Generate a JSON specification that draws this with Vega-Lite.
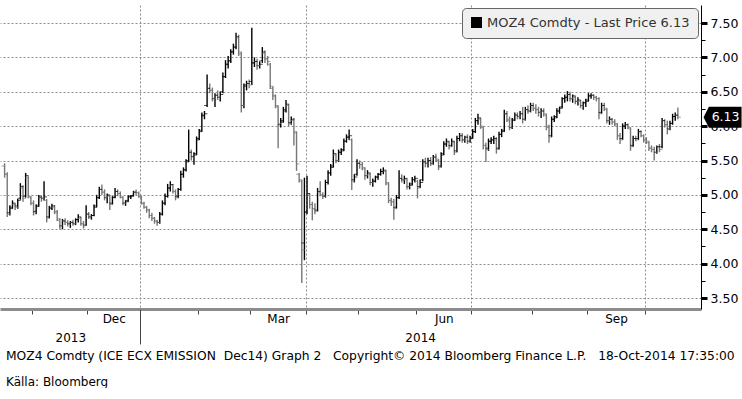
{
"$schema": "https://vega.github.io/schema/vega-lite/v6.json",
"width": 701, "height": 304,
"padding": {"left": 0, "top": 5, "right": 0, "bottom": 0},
"autosize": {"type": "pad"},
"background": "white",
"config": {"view": {"stroke": null}, "font": "DejaVu Sans",
  "legend": {"orient": "top-right", "offset": 3, "fillColor": "#f0f0f0", "strokeColor": "#666666", "cornerRadius": 4, "padding": 8, "labelFontSize": 13, "labelColor": "#333333", "symbolType": "square", "symbolSize": 121, "symbolOpacity": 1, "symbolStrokeWidth": 0, "labelLimit": 400}},
"title": {"text": "MOZ4 Comdty (ICE ECX EMISSION \u00a0Dec14) Graph 2 \u00a0 Copyright\u00a9 2014 Bloomberg Finance L.P. \u00a0 18-Oct-2014 17:35:00", "subtitle": "Källa: Bloomberg", "orient": "bottom", "anchor": "start", "frame": "bounds", "offset": 5, "dx": 6, "font": "DejaVu Sans", "fontSize": 12.3, "fontWeight": "normal", "color": "#000000", "subtitleFont": "DejaVu Sans", "subtitleFontSize": 12, "subtitleColor": "#000000", "subtitlePadding": 15},
"data": {"values": [
{"date":"2013-10-17","open":5.42,"high":5.46,"low":5.25,"close":5.30},
{"date":"2013-10-18","open":5.30,"high":5.33,"low":4.68,"close":4.72},
{"date":"2013-10-21","open":4.74,"high":4.85,"low":4.70,"close":4.80},
{"date":"2013-10-22","open":4.82,"high":4.92,"low":4.80,"close":4.88},
{"date":"2013-10-23","open":4.86,"high":4.88,"low":4.78,"close":4.82},
{"date":"2013-10-24","open":4.84,"high":4.94,"low":4.80,"close":4.92},
{"date":"2013-10-25","open":4.95,"high":5.17,"low":4.93,"close":5.12},
{"date":"2013-10-28","open":5.10,"high":5.14,"low":4.90,"close":4.95},
{"date":"2013-10-29","open":4.98,"high":5.32,"low":4.96,"close":5.28},
{"date":"2013-10-30","open":5.25,"high":5.27,"low":4.95,"close":4.98},
{"date":"2013-10-31","open":4.96,"high":4.98,"low":4.85,"close":4.88},
{"date":"2013-11-01","open":4.88,"high":4.92,"low":4.70,"close":4.74},
{"date":"2013-11-04","open":4.76,"high":4.86,"low":4.72,"close":4.83},
{"date":"2013-11-05","open":4.85,"high":5.00,"low":4.83,"close":4.97},
{"date":"2013-11-06","open":4.96,"high":4.99,"low":4.90,"close":4.95},
{"date":"2013-11-07","open":4.95,"high":5.20,"low":4.92,"close":4.97},
{"date":"2013-11-08","open":4.92,"high":4.94,"low":4.60,"close":4.66},
{"date":"2013-11-11","open":4.68,"high":4.84,"low":4.66,"close":4.80},
{"date":"2013-11-12","open":4.82,"high":4.87,"low":4.78,"close":4.84},
{"date":"2013-11-13","open":4.82,"high":4.85,"low":4.72,"close":4.76},
{"date":"2013-11-14","open":4.74,"high":4.78,"low":4.62,"close":4.65},
{"date":"2013-11-15","open":4.63,"high":4.66,"low":4.50,"close":4.55},
{"date":"2013-11-18","open":4.55,"high":4.65,"low":4.50,"close":4.62},
{"date":"2013-11-19","open":4.62,"high":4.66,"low":4.56,"close":4.60},
{"date":"2013-11-20","open":4.60,"high":4.63,"low":4.54,"close":4.57},
{"date":"2013-11-21","open":4.58,"high":4.62,"low":4.52,"close":4.60},
{"date":"2013-11-22","open":4.60,"high":4.64,"low":4.55,"close":4.58},
{"date":"2013-11-25","open":4.58,"high":4.66,"low":4.56,"close":4.64},
{"date":"2013-11-26","open":4.64,"high":4.72,"low":4.60,"close":4.68},
{"date":"2013-11-27","open":4.66,"high":4.68,"low":4.55,"close":4.58},
{"date":"2013-11-28","open":4.58,"high":4.62,"low":4.51,"close":4.55},
{"date":"2013-11-29","open":4.56,"high":4.85,"low":4.55,"close":4.72},
{"date":"2013-12-02","open":4.72,"high":4.75,"low":4.65,"close":4.68},
{"date":"2013-12-03","open":4.68,"high":4.72,"low":4.64,"close":4.70},
{"date":"2013-12-04","open":4.70,"high":4.86,"low":4.69,"close":4.82},
{"date":"2013-12-05","open":4.84,"high":5.00,"low":4.82,"close":4.96},
{"date":"2013-12-06","open":4.96,"high":5.12,"low":4.94,"close":5.08},
{"date":"2013-12-09","open":5.08,"high":5.15,"low":5.00,"close":5.04},
{"date":"2013-12-10","open":5.04,"high":5.08,"low":4.92,"close":4.96},
{"date":"2013-12-11","open":4.96,"high":5.02,"low":4.88,"close":5.00},
{"date":"2013-12-12","open":4.98,"high":5.00,"low":4.78,"close":4.86},
{"date":"2013-12-13","open":4.88,"high":4.98,"low":4.86,"close":4.96},
{"date":"2013-12-16","open":4.97,"high":5.10,"low":4.95,"close":5.05},
{"date":"2013-12-17","open":5.05,"high":5.08,"low":4.98,"close":5.02},
{"date":"2013-12-18","open":5.02,"high":5.05,"low":4.95,"close":4.97},
{"date":"2013-12-19","open":4.96,"high":4.98,"low":4.85,"close":4.88},
{"date":"2013-12-20","open":4.88,"high":4.92,"low":4.84,"close":4.90},
{"date":"2013-12-23","open":4.92,"high":4.99,"low":4.90,"close":4.97},
{"date":"2013-12-24","open":4.98,"high":5.00,"low":4.94,"close":4.98},
{"date":"2013-12-27","open":4.99,"high":5.06,"low":4.98,"close":5.04},
{"date":"2013-12-30","open":5.04,"high":5.08,"low":5.00,"close":5.03},
{"date":"2013-12-31","open":5.03,"high":5.05,"low":4.96,"close":4.98},
{"date":"2014-01-02","open":4.97,"high":4.99,"low":4.86,"close":4.88},
{"date":"2014-01-03","open":4.87,"high":4.90,"low":4.80,"close":4.82},
{"date":"2014-01-06","open":4.82,"high":4.84,"low":4.74,"close":4.78},
{"date":"2014-01-07","open":4.78,"high":4.80,"low":4.66,"close":4.70},
{"date":"2014-01-08","open":4.70,"high":4.74,"low":4.62,"close":4.66},
{"date":"2014-01-09","open":4.66,"high":4.68,"low":4.58,"close":4.62},
{"date":"2014-01-10","open":4.62,"high":4.64,"low":4.55,"close":4.60},
{"date":"2014-01-13","open":4.60,"high":4.75,"low":4.58,"close":4.72},
{"date":"2014-01-14","open":4.72,"high":4.92,"low":4.70,"close":4.88},
{"date":"2014-01-15","open":4.88,"high":5.02,"low":4.85,"close":4.98},
{"date":"2014-01-16","open":4.98,"high":5.16,"low":4.96,"close":5.10},
{"date":"2014-01-17","open":5.10,"high":5.20,"low":5.05,"close":5.15},
{"date":"2014-01-20","open":5.14,"high":5.16,"low":5.02,"close":5.05},
{"date":"2014-01-21","open":5.05,"high":5.08,"low":4.92,"close":4.96},
{"date":"2014-01-22","open":4.98,"high":5.10,"low":4.95,"close":5.08},
{"date":"2014-01-23","open":5.08,"high":5.35,"low":5.06,"close":5.30},
{"date":"2014-01-24","open":5.30,"high":5.40,"low":5.25,"close":5.36},
{"date":"2014-01-27","open":5.37,"high":5.52,"low":5.34,"close":5.48},
{"date":"2014-01-28","open":5.50,"high":5.95,"low":5.48,"close":5.62},
{"date":"2014-01-29","open":5.62,"high":5.66,"low":5.50,"close":5.55},
{"date":"2014-01-30","open":5.56,"high":5.62,"low":5.44,"close":5.58},
{"date":"2014-01-31","open":5.60,"high":5.85,"low":5.58,"close":5.80},
{"date":"2014-02-03","open":5.82,"high":5.96,"low":5.80,"close":5.92},
{"date":"2014-02-04","open":5.94,"high":6.20,"low":5.92,"close":6.16},
{"date":"2014-02-05","open":6.15,"high":6.22,"low":6.10,"close":6.18},
{"date":"2014-02-06","open":6.30,"high":6.75,"low":6.28,"close":6.55},
{"date":"2014-02-07","open":6.55,"high":6.62,"low":6.48,"close":6.52},
{"date":"2014-02-10","open":6.52,"high":6.56,"low":6.36,"close":6.40},
{"date":"2014-02-11","open":6.40,"high":6.48,"low":6.28,"close":6.45},
{"date":"2014-02-12","open":6.45,"high":6.52,"low":6.38,"close":6.42},
{"date":"2014-02-13","open":6.42,"high":6.50,"low":6.36,"close":6.46},
{"date":"2014-02-14","open":6.50,"high":6.78,"low":6.48,"close":6.72},
{"date":"2014-02-17","open":6.72,"high":6.96,"low":6.70,"close":6.90},
{"date":"2014-02-18","open":6.90,"high":7.02,"low":6.84,"close":6.95},
{"date":"2014-02-19","open":6.95,"high":7.12,"low":6.92,"close":7.08},
{"date":"2014-02-20","open":7.08,"high":7.20,"low":7.04,"close":7.15},
{"date":"2014-02-21","open":7.15,"high":7.36,"low":7.12,"close":7.30},
{"date":"2014-02-24","open":7.28,"high":7.33,"low":7.02,"close":7.08},
{"date":"2014-02-25","open":7.05,"high":7.08,"low":6.20,"close":6.30},
{"date":"2014-02-26","open":6.30,"high":6.62,"low":6.26,"close":6.58},
{"date":"2014-02-27","open":6.60,"high":6.66,"low":6.52,"close":6.62},
{"date":"2014-02-28","open":6.62,"high":6.68,"low":6.55,"close":6.60},
{"date":"2014-03-03","open":6.65,"high":7.43,"low":6.60,"close":6.92},
{"date":"2014-03-04","open":6.92,"high":7.00,"low":6.86,"close":6.94},
{"date":"2014-03-05","open":6.94,"high":6.98,"low":6.82,"close":6.88},
{"date":"2014-03-06","open":6.88,"high":6.94,"low":6.84,"close":6.90},
{"date":"2014-03-07","open":6.95,"high":7.15,"low":6.92,"close":7.08},
{"date":"2014-03-10","open":7.06,"high":7.10,"low":6.92,"close":6.98},
{"date":"2014-03-11","open":6.98,"high":7.02,"low":6.88,"close":6.94},
{"date":"2014-03-12","open":6.90,"high":6.92,"low":6.54,"close":6.58},
{"date":"2014-03-13","open":6.55,"high":6.58,"low":6.38,"close":6.44},
{"date":"2014-03-14","open":6.44,"high":6.46,"low":6.26,"close":6.30},
{"date":"2014-03-17","open":6.28,"high":6.30,"low":5.68,"close":6.04},
{"date":"2014-03-18","open":6.02,"high":6.12,"low":5.98,"close":6.06},
{"date":"2014-03-19","open":6.08,"high":6.28,"low":6.05,"close":6.22},
{"date":"2014-03-20","open":6.24,"high":6.38,"low":6.20,"close":6.32},
{"date":"2014-03-21","open":6.30,"high":6.32,"low":6.00,"close":6.04},
{"date":"2014-03-24","open":6.05,"high":6.14,"low":6.02,"close":6.10},
{"date":"2014-03-25","open":6.08,"high":6.12,"low":5.72,"close":5.92},
{"date":"2014-03-26","open":5.90,"high":5.92,"low":5.35,"close":5.45},
{"date":"2014-03-27","open":5.30,"high":5.32,"low":5.18,"close":5.22},
{"date":"2014-03-28","open":5.20,"high":5.22,"low":3.72,"close":4.20},
{"date":"2014-03-31","open":4.30,"high":5.25,"low":4.05,"close":4.75},
{"date":"2014-04-01","open":4.75,"high":5.28,"low":4.72,"close":5.02},
{"date":"2014-04-02","open":5.00,"high":5.02,"low":4.80,"close":4.86},
{"date":"2014-04-03","open":4.86,"high":4.90,"low":4.63,"close":4.80},
{"date":"2014-04-04","open":4.80,"high":4.88,"low":4.72,"close":4.76},
{"date":"2014-04-07","open":4.78,"high":5.10,"low":4.76,"close":5.05},
{"date":"2014-04-08","open":5.04,"high":5.20,"low":4.98,"close":5.00},
{"date":"2014-04-09","open":5.00,"high":5.04,"low":4.94,"close":4.98},
{"date":"2014-04-10","open":4.98,"high":5.22,"low":4.96,"close":5.18},
{"date":"2014-04-11","open":5.18,"high":5.36,"low":5.15,"close":5.32},
{"date":"2014-04-14","open":5.32,"high":5.45,"low":5.28,"close":5.40},
{"date":"2014-04-15","open":5.42,"high":5.66,"low":5.40,"close":5.60},
{"date":"2014-04-16","open":5.58,"high":5.60,"low":5.46,"close":5.50},
{"date":"2014-04-17","open":5.50,"high":5.66,"low":5.48,"close":5.62},
{"date":"2014-04-22","open":5.62,"high":5.68,"low":5.58,"close":5.64},
{"date":"2014-04-23","open":5.66,"high":5.82,"low":5.64,"close":5.78},
{"date":"2014-04-24","open":5.78,"high":5.88,"low":5.76,"close":5.84},
{"date":"2014-04-25","open":5.84,"high":5.95,"low":5.80,"close":5.86},
{"date":"2014-04-28","open":5.80,"high":5.82,"low":5.07,"close":5.20},
{"date":"2014-04-29","open":5.22,"high":5.30,"low":5.18,"close":5.26},
{"date":"2014-04-30","open":5.30,"high":5.52,"low":5.28,"close":5.46},
{"date":"2014-05-01","open":5.46,"high":5.50,"low":5.38,"close":5.44},
{"date":"2014-05-02","open":5.44,"high":5.48,"low":5.36,"close":5.40},
{"date":"2014-05-05","open":5.38,"high":5.40,"low":5.22,"close":5.28},
{"date":"2014-05-06","open":5.28,"high":5.36,"low":5.24,"close":5.32},
{"date":"2014-05-07","open":5.30,"high":5.32,"low":5.14,"close":5.18},
{"date":"2014-05-08","open":5.18,"high":5.24,"low":5.12,"close":5.20},
{"date":"2014-05-09","open":5.20,"high":5.28,"low":5.18,"close":5.26},
{"date":"2014-05-12","open":5.26,"high":5.32,"low":5.22,"close":5.30},
{"date":"2014-05-13","open":5.30,"high":5.38,"low":5.28,"close":5.34},
{"date":"2014-05-14","open":5.34,"high":5.40,"low":5.30,"close":5.36},
{"date":"2014-05-15","open":5.34,"high":5.36,"low":5.14,"close":5.18},
{"date":"2014-05-16","open":5.16,"high":5.18,"low":4.88,"close":4.92},
{"date":"2014-05-19","open":4.92,"high":4.96,"low":4.84,"close":4.90},
{"date":"2014-05-20","open":4.90,"high":4.94,"low":4.64,"close":4.80},
{"date":"2014-05-21","open":4.82,"high":5.00,"low":4.80,"close":4.96},
{"date":"2014-05-22","open":4.96,"high":5.36,"low":4.94,"close":5.24},
{"date":"2014-05-23","open":5.24,"high":5.30,"low":5.18,"close":5.22},
{"date":"2014-05-26","open":5.22,"high":5.28,"low":5.16,"close":5.24},
{"date":"2014-05-27","open":5.22,"high":5.24,"low":5.08,"close":5.12},
{"date":"2014-05-28","open":5.12,"high":5.18,"low":5.08,"close":5.14},
{"date":"2014-05-29","open":5.16,"high":5.26,"low":5.14,"close":5.22},
{"date":"2014-05-30","open":5.22,"high":5.28,"low":5.18,"close":5.24},
{"date":"2014-06-02","open":5.20,"high":5.22,"low":4.95,"close":5.10},
{"date":"2014-06-03","open":5.12,"high":5.22,"low":5.10,"close":5.18},
{"date":"2014-06-04","open":5.22,"high":5.52,"low":5.20,"close":5.48},
{"date":"2014-06-05","open":5.48,"high":5.54,"low":5.40,"close":5.46},
{"date":"2014-06-06","open":5.46,"high":5.54,"low":5.40,"close":5.50},
{"date":"2014-06-09","open":5.50,"high":5.55,"low":5.42,"close":5.45},
{"date":"2014-06-10","open":5.46,"high":5.58,"low":5.44,"close":5.55},
{"date":"2014-06-11","open":5.55,"high":5.60,"low":5.48,"close":5.52},
{"date":"2014-06-12","open":5.50,"high":5.52,"low":5.36,"close":5.40},
{"date":"2014-06-13","open":5.42,"high":5.62,"low":5.40,"close":5.58},
{"date":"2014-06-16","open":5.60,"high":5.78,"low":5.58,"close":5.74},
{"date":"2014-06-17","open":5.74,"high":5.82,"low":5.70,"close":5.78},
{"date":"2014-06-18","open":5.76,"high":5.78,"low":5.66,"close":5.70},
{"date":"2014-06-19","open":5.72,"high":5.82,"low":5.70,"close":5.78},
{"date":"2014-06-20","open":5.76,"high":5.78,"low":5.58,"close":5.62},
{"date":"2014-06-23","open":5.64,"high":5.86,"low":5.62,"close":5.82},
{"date":"2014-06-24","open":5.82,"high":5.90,"low":5.78,"close":5.86},
{"date":"2014-06-25","open":5.86,"high":5.90,"low":5.76,"close":5.80},
{"date":"2014-06-26","open":5.80,"high":5.86,"low":5.76,"close":5.84},
{"date":"2014-06-27","open":5.84,"high":5.88,"low":5.74,"close":5.78},
{"date":"2014-06-30","open":5.78,"high":5.86,"low":5.76,"close":5.82},
{"date":"2014-07-01","open":5.84,"high":5.96,"low":5.82,"close":5.92},
{"date":"2014-07-02","open":5.92,"high":6.12,"low":5.90,"close":6.08},
{"date":"2014-07-03","open":6.08,"high":6.18,"low":6.02,"close":6.12},
{"date":"2014-07-04","open":6.10,"high":6.12,"low":5.96,"close":6.00},
{"date":"2014-07-07","open":5.98,"high":6.00,"low":5.66,"close":5.72},
{"date":"2014-07-08","open":5.72,"high":5.76,"low":5.48,"close":5.66},
{"date":"2014-07-09","open":5.68,"high":5.82,"low":5.64,"close":5.78},
{"date":"2014-07-10","open":5.78,"high":5.84,"low":5.74,"close":5.80},
{"date":"2014-07-11","open":5.80,"high":5.86,"low":5.74,"close":5.82},
{"date":"2014-07-14","open":5.80,"high":5.84,"low":5.60,"close":5.66},
{"date":"2014-07-15","open":5.68,"high":5.92,"low":5.66,"close":5.88},
{"date":"2014-07-16","open":5.88,"high":5.96,"low":5.84,"close":5.92},
{"date":"2014-07-17","open":5.94,"high":6.24,"low":5.92,"close":6.18},
{"date":"2014-07-18","open":6.18,"high":6.22,"low":6.06,"close":6.10},
{"date":"2014-07-21","open":6.08,"high":6.14,"low":5.94,"close":5.98},
{"date":"2014-07-22","open":5.98,"high":6.12,"low":5.96,"close":6.08},
{"date":"2014-07-23","open":6.10,"high":6.20,"low":6.08,"close":6.16},
{"date":"2014-07-24","open":6.16,"high":6.20,"low":6.10,"close":6.14},
{"date":"2014-07-25","open":6.14,"high":6.22,"low":6.10,"close":6.18},
{"date":"2014-07-28","open":6.18,"high":6.28,"low":6.04,"close":6.10},
{"date":"2014-07-29","open":6.10,"high":6.28,"low":6.08,"close":6.24},
{"date":"2014-07-30","open":6.24,"high":6.30,"low":6.18,"close":6.22},
{"date":"2014-07-31","open":6.22,"high":6.34,"low":6.20,"close":6.30},
{"date":"2014-08-01","open":6.30,"high":6.34,"low":6.22,"close":6.26},
{"date":"2014-08-04","open":6.26,"high":6.32,"low":6.18,"close":6.24},
{"date":"2014-08-05","open":6.24,"high":6.28,"low":6.14,"close":6.20},
{"date":"2014-08-06","open":6.20,"high":6.26,"low":6.12,"close":6.22},
{"date":"2014-08-07","open":6.22,"high":6.26,"low":6.14,"close":6.18},
{"date":"2014-08-08","open":6.16,"high":6.18,"low":5.94,"close":6.00},
{"date":"2014-08-11","open":5.98,"high":6.02,"low":5.76,"close":5.84},
{"date":"2014-08-12","open":5.86,"high":6.14,"low":5.84,"close":6.10},
{"date":"2014-08-13","open":6.10,"high":6.16,"low":6.06,"close":6.12},
{"date":"2014-08-14","open":6.14,"high":6.26,"low":6.12,"close":6.22},
{"date":"2014-08-15","open":6.22,"high":6.28,"low":6.18,"close":6.26},
{"date":"2014-08-18","open":6.28,"high":6.42,"low":6.26,"close":6.40},
{"date":"2014-08-19","open":6.40,"high":6.46,"low":6.34,"close":6.42},
{"date":"2014-08-20","open":6.42,"high":6.51,"low":6.36,"close":6.46},
{"date":"2014-08-21","open":6.46,"high":6.50,"low":6.36,"close":6.40},
{"date":"2014-08-22","open":6.40,"high":6.46,"low":6.34,"close":6.44},
{"date":"2014-08-25","open":6.42,"high":6.44,"low":6.32,"close":6.36},
{"date":"2014-08-26","open":6.36,"high":6.42,"low":6.30,"close":6.38},
{"date":"2014-08-27","open":6.36,"high":6.38,"low":6.26,"close":6.30},
{"date":"2014-08-28","open":6.30,"high":6.36,"low":6.24,"close":6.34},
{"date":"2014-08-29","open":6.34,"high":6.40,"low":6.28,"close":6.36},
{"date":"2014-09-01","open":6.38,"high":6.48,"low":6.36,"close":6.44},
{"date":"2014-09-02","open":6.44,"high":6.48,"low":6.40,"close":6.45},
{"date":"2014-09-03","open":6.45,"high":6.46,"low":6.38,"close":6.42},
{"date":"2014-09-04","open":6.42,"high":6.44,"low":6.36,"close":6.40},
{"date":"2014-09-05","open":6.40,"high":6.42,"low":6.10,"close":6.18},
{"date":"2014-09-08","open":6.20,"high":6.34,"low":6.18,"close":6.30},
{"date":"2014-09-09","open":6.30,"high":6.34,"low":6.22,"close":6.26},
{"date":"2014-09-10","open":6.24,"high":6.26,"low":6.04,"close":6.08},
{"date":"2014-09-11","open":6.08,"high":6.14,"low":6.02,"close":6.10},
{"date":"2014-09-12","open":6.10,"high":6.12,"low":6.02,"close":6.06},
{"date":"2014-09-15","open":6.06,"high":6.10,"low":6.00,"close":6.04},
{"date":"2014-09-16","open":6.02,"high":6.04,"low":5.80,"close":5.86},
{"date":"2014-09-17","open":5.86,"high":5.90,"low":5.74,"close":5.80},
{"date":"2014-09-18","open":5.82,"high":6.04,"low":5.80,"close":6.00},
{"date":"2014-09-19","open":6.00,"high":6.06,"low":5.96,"close":6.02},
{"date":"2014-09-22","open":6.02,"high":6.04,"low":5.96,"close":5.98},
{"date":"2014-09-23","open":5.96,"high":5.98,"low":5.64,"close":5.70},
{"date":"2014-09-24","open":5.72,"high":5.86,"low":5.70,"close":5.82},
{"date":"2014-09-25","open":5.82,"high":5.86,"low":5.78,"close":5.80},
{"date":"2014-09-26","open":5.82,"high":5.96,"low":5.80,"close":5.92},
{"date":"2014-09-29","open":5.92,"high":5.94,"low":5.84,"close":5.86},
{"date":"2014-09-30","open":5.86,"high":5.88,"low":5.76,"close":5.80},
{"date":"2014-10-01","open":5.80,"high":5.84,"low":5.74,"close":5.78},
{"date":"2014-10-02","open":5.76,"high":5.78,"low":5.64,"close":5.68},
{"date":"2014-10-03","open":5.68,"high":5.72,"low":5.62,"close":5.66},
{"date":"2014-10-06","open":5.66,"high":5.70,"low":5.50,"close":5.62},
{"date":"2014-10-07","open":5.62,"high":5.72,"low":5.60,"close":5.70},
{"date":"2014-10-08","open":5.70,"high":5.74,"low":5.62,"close":5.66},
{"date":"2014-10-09","open":5.70,"high":6.12,"low":5.68,"close":6.08},
{"date":"2014-10-10","open":6.08,"high":6.10,"low":5.98,"close":6.02},
{"date":"2014-10-13","open":6.02,"high":6.08,"low":5.88,"close":5.96},
{"date":"2014-10-14","open":5.96,"high":6.08,"low":5.94,"close":6.04},
{"date":"2014-10-15","open":6.04,"high":6.18,"low":6.02,"close":6.14},
{"date":"2014-10-16","open":6.14,"high":6.20,"low":6.08,"close":6.16},
{"date":"2014-10-17","open":6.16,"high":6.27,"low":6.10,"close":6.13}
]},
"transform": [{"window": [{"op": "row_number", "as": "n"}], "sort": [{"field": "date", "order": "ascending"}]}],
"resolve": {"axis": {"x": "independent", "y": "independent"}},
"layer": [
 {"mark": {"type": "rule", "strokeWidth": 1.4},
  "encoding": {
   "x": {"field": "n", "type": "quantitative", "scale": {"domain": [-0.75, 265.8], "nice": false, "zero": false},
     "axis": {"orient": "bottom", "title": null, "values": [11.5, 32.5, 52.5, 74.5, 94.5, 115.5, 135.5, 157.5, 178.5, 201.5, 222.5, 244.5], "labels": false, "grid": false, "ticks": true, "tickSize": 5, "tickColor": "#444444", "tickWidth": 1, "domain": true, "domainColor": "#8c8c8c", "domainWidth": 3}},
   "y": {"field": "low", "type": "quantitative", "scale": {"domain": [3.34, 7.762], "nice": false, "zero": false},
     "axis": {"orient": "right", "title": null, "values": [3.5, 3.75, 4, 4.25, 4.5, 4.75, 5, 5.25, 5.5, 5.75, 6, 6.25, 6.5, 6.75, 7, 7.25, 7.5],
       "grid": true, "gridDash": [2, 2], "gridColor": "#8c8c8c", "gridWidth": 1,
       "gridOpacity": {"condition": {"test": "(datum.value * 4) % 2 == 0", "value": 1}, "value": 0},
       "domain": true, "domainColor": "#000000", "domainWidth": 1, "tickColor": "#000000",
       "tickSize": {"condition": {"test": "(datum.value * 4) % 2 == 0", "value": 6}, "value": 4},
       "tickWidth": {"condition": {"test": "(datum.value * 4) % 2 == 0", "value": 3}, "value": 1},
       "labelExpr": "(datum.value * 4) % 2 == 0 ? format(datum.value, '.2f') : ''",
       "labelOverlap": false, "labelBound": false, "labelFont": "DejaVu Sans", "labelFontSize": 12.5, "labelColor": "#000000", "labelPadding": 3}},
   "y2": {"field": "high"},
   "color": {"condition": {"test": "datum.close < datum.open", "value": "#777777"}, "value": "#000000"}
  }},
 {"mark": {"type": "tick", "orient": "horizontal", "size": 3, "thickness": 1, "xOffset": -1.5},
  "encoding": {
   "x": {"field": "n", "type": "quantitative",
     "axis": {"orient": "bottom", "title": null, "values": [52.5, 115.5, 178.5, 244.5], "labels": false, "ticks": false, "domain": false, "grid": true, "gridDash": [2, 2], "gridColor": "#8c8c8c", "gridWidth": 1}},
   "y": {"field": "open", "type": "quantitative", "axis": null},
   "color": {"condition": {"test": "datum.close < datum.open", "value": "#777777"}, "value": "#000000"}
  }},
 {"mark": {"type": "tick", "orient": "horizontal", "size": 3, "thickness": 1, "xOffset": 1.5},
  "encoding": {
   "x": {"field": "n", "type": "quantitative",
     "axis": {"orient": "bottom", "title": null, "values": [42.5, 105, 168, 233.5], "labelExpr": "datum.value == 42.5 ? 'Dec' : datum.value == 105 ? 'Mar' : datum.value == 168 ? 'Jun' : 'Sep'", "ticks": false, "tickSize": 0, "domain": false, "grid": false, "labelFont": "DejaVu Sans", "labelFontSize": 12, "labelColor": "#000000", "labelPadding": 4, "labelOverlap": false}},
   "y": {"field": "close", "type": "quantitative", "axis": null},
   "color": {"condition": {"test": "datum.close < datum.open", "value": "#777777"}, "value": "#000000"}
  }},
 {"transform": [{"filter": "datum.date == '2014-10-17'"}],
  "mark": {"type": "point", "shape": "M-1,0L-0.72,-0.55L1,-0.55L1,0.55L-0.72,0.55Z", "size": 1444, "filled": true, "fill": "#000000", "opacity": 1, "strokeWidth": 0},
  "encoding": {
   "x": {"datum": 274, "type": "quantitative",
     "axis": {"orient": "bottom", "title": null, "values": [26, 159], "labelExpr": "datum.value < 100 ? '2013' : '2014'", "ticks": false, "tickSize": 0, "domain": false, "grid": false, "labelFont": "DejaVu Sans", "labelFontSize": 12, "labelColor": "#000000", "labelPadding": 23, "labelOverlap": false}},
   "y": {"field": "close", "type": "quantitative", "axis": null}
  }},
 {"transform": [{"filter": "datum.date == '2014-10-17'"}],
  "mark": {"type": "text", "color": "#ffffff", "font": "DejaVu Sans", "fontSize": 12.5, "align": "center", "baseline": "middle", "dx": 3},
  "encoding": {
   "x": {"datum": 274, "type": "quantitative",
     "axis": {"orient": "bottom", "title": null, "values": [52.5], "labels": false, "ticks": true, "tickSize": 35, "tickColor": "#444444", "tickWidth": 1, "domain": false, "grid": false}},
   "y": {"field": "close", "type": "quantitative", "axis": null},
   "text": {"field": "close", "type": "quantitative", "format": ".2f"}
  }},
 {"data": {"values": [{"series": "MOZ4 Comdty - Last Price 6.13"}]},
  "mark": {"type": "point", "shape": "square", "filled": true, "opacity": 0},
  "encoding": {
   "fill": {"field": "series", "type": "nominal", "scale": {"range": ["#000000"]}, "legend": {"title": null}}
  }}
]
}
